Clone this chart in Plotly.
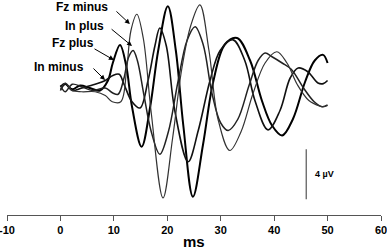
import plotly.graph_objects as go

# ---- data (ms, µV) ----
fz_plus_t = [0, 0.9, 2.2, 3.7, 5.5, 7.4, 8.9, 9.8, 11.15, 12.3, 13.4, 15.2, 16.8, 18.3, 20.1, 21.6, 23.0, 24.8, 26.7, 28.6, 30.8, 33.05, 35.5, 37.7, 39.6, 41.5, 43.5, 45.8, 47.6, 49.15, 50]
fz_plus_v = [0.1, 0.35, -0.1, 0.2, 0.0, -0.2, 0.6, 2.0, 3.45, 1.8, -1.5, -4.7, -1.5, 3.0, 6.55, 3.0, -3.0, -8.7, -4.5, 0.5, 3.5, 4.0, 2.2, -1.0, -3.0, -3.8, -2.5, 0.5, 2.2, 2.65, 2.0]

fz_minus_t = [0, 0.9, 2.2, 4.0, 6.5, 8.4, 9.7, 11.3, 12.4, 13.2, 14.3, 15.5, 17.0, 19.2, 21.0, 22.7, 24.4, 26.1, 27.8, 29.5, 31.7, 33.8, 36.0, 38.3, 40.5, 42.4, 44.3, 46.5, 48.6, 49.2, 50]
fz_minus_v = [-0.1, 0.4, -0.2, -0.3, -0.3, -0.6, -1.1, -1.1, 1.5, 4.6, 5.9, 4.0, -2.0, -8.8, -4.0, 1.5, 5.0, 6.65, 3.0, -2.5, -5.0, -3.5, -0.5, 2.0, 2.9, 2.0, 0.3, -1.0, -1.45, -1.5, -1.4]

in_plus_t = [0, 0.9, 2.2, 4.0, 6.0, 8.4, 9.8, 10.8, 11.9, 12.7, 13.6, 14.4, 15.6, 17.0, 18.6, 20.2, 22.0, 23.7, 25.2, 26.7, 28.4, 30.0, 31.4, 33.2, 35.3, 37.0, 38.3, 39.6, 41.5, 43.2, 45.5, 47.5, 49.0, 50]
in_plus_v = [0.2, -0.3, 0.3, 0.1, -0.2, 0.0, -0.4, -0.5, 0.8, 2.4, 3.0, 2.2, -0.5, -3.5, -5.3, -3.5, 0.5, 3.8, 4.9, 3.5, -0.5, -2.8, -3.4, -2.5, 0.2, 2.2, 2.8, 2.5, 2.0, 1.5, 0.0, -1.1, -1.5, -1.35]

in_minus_t = [0, 0.9, 2.2, 4.0, 6.5, 8.4, 9.8, 11.0, 11.9, 13.4, 14.9, 16.4, 17.7, 18.6, 19.8, 21.4, 23.9, 25.8, 28.0, 29.9, 32.3, 34.5, 36.4, 38.85, 41.1, 43.0, 44.5, 46.3, 48.2, 49.2, 50]
in_minus_v = [-0.2, 0.3, -0.2, 0.0, 0.3, 0.6, 1.0, 1.1, 0.3, -1.1, -1.6, 0.6, 3.4, 4.8, 3.4, -1.8, -5.9, -3.4, 0.6, 3.0, 3.85, 2.2, -1.0, -3.35, -1.8, 0.8, 1.6, 1.3, 0.4, 0.35, 0.6]

x_ticks = [-10, 0, 10, 20, 30, 40, 50, 60]

label_texts = ["Fz minus", "In plus", "Fz plus", "In minus"]
label_pos = [(4.05, 6.45), (4.5, 4.96), (2.26, 3.6), (-0.27, 1.68)]
arrow_tail = [(10.2, 6.24), (9.3, 4.8), (6.1, 3.2), (5.9, 1.68)]
arrow_head = [(13.0, 5.12), (13.4, 3.36), (10.0, 2.24), (8.35, 0.64)]

scale_x = 46
scale_y = [-4.9, -8.9]
scale_text = "4 µV"
x_title = "ms"

FONT = "Liberation Sans, Arial"

fig = go.Figure()
series = [
    (fz_plus_t, fz_plus_v, "#000000", 2.0),
    (in_minus_t, in_minus_v, "#111111", 1.6),
    (in_plus_t, in_plus_v, "#222222", 1.5),
    (fz_minus_t, fz_minus_v, "#333333", 1.2),
]
for t, v, c, w in series:
    fig.add_trace(go.Scatter(x=t, y=v, mode="lines",
                             line=dict(color=c, width=w, shape="spline", smoothing=1.0),
                             showlegend=False, hoverinfo="skip"))

fig.add_shape(type="line", x0=scale_x, x1=scale_x, y0=scale_y[0], y1=scale_y[1],
              xref="x", yref="y", line=dict(color="#333333", width=1))
fig.add_annotation(x=scale_x + 1.2, y=(scale_y[0] + scale_y[1]) / 2, text="<b>%s</b>" % scale_text,
                   showarrow=False, xanchor="left",
                   font=dict(family=FONT, size=9, color="#000"),
                   xref="x", yref="y")

for txt, (lx, ly) in zip(label_texts, label_pos):
    fig.add_annotation(x=lx, y=ly, text="<b>%s</b>" % txt, showarrow=False,
                       font=dict(family=FONT, size=12, color="#000"),
                       xref="x", yref="y")
for (tx, ty), (hx, hy) in zip(arrow_tail, arrow_head):
    fig.add_annotation(x=hx, y=hy, ax=tx, ay=ty, axref="x", ayref="y", xref="x", yref="y",
                       text="", showarrow=True, arrowhead=2, arrowsize=1.0, arrowwidth=1,
                       arrowcolor="#000")

fig.add_annotation(x=0.5, y=-0.125, xref="paper", yref="paper", text="<b>%s</b>" % x_title,
                   showarrow=False, yanchor="middle",
                   font=dict(family=FONT, size=15, color="#000"))

fig.update_layout(
    width=387, height=250,
    margin=dict(l=7, r=6, t=0, b=35, autoexpand=False),
    paper_bgcolor="white", plot_bgcolor="white",
    xaxis=dict(range=[-10, 60], tickvals=x_ticks, ticktext=["<b>%d</b>" % v for v in x_ticks],
               showline=True, linecolor="#555", linewidth=1, ticks="outside", ticklen=5,
               tickcolor="#555", showgrid=False, zeroline=False, automargin=False,
               ticklabeloverflow="allow",
               tickfont=dict(family=FONT, size=11, color="#000")),
    yaxis=dict(range=[-10.16, 7.04], visible=False, showgrid=False, zeroline=False),
)
fig.write_html("out.html", config={"displayModeBar": False},
               post_script="document.body.style.margin='0';document.body.style.overflow='hidden';")
